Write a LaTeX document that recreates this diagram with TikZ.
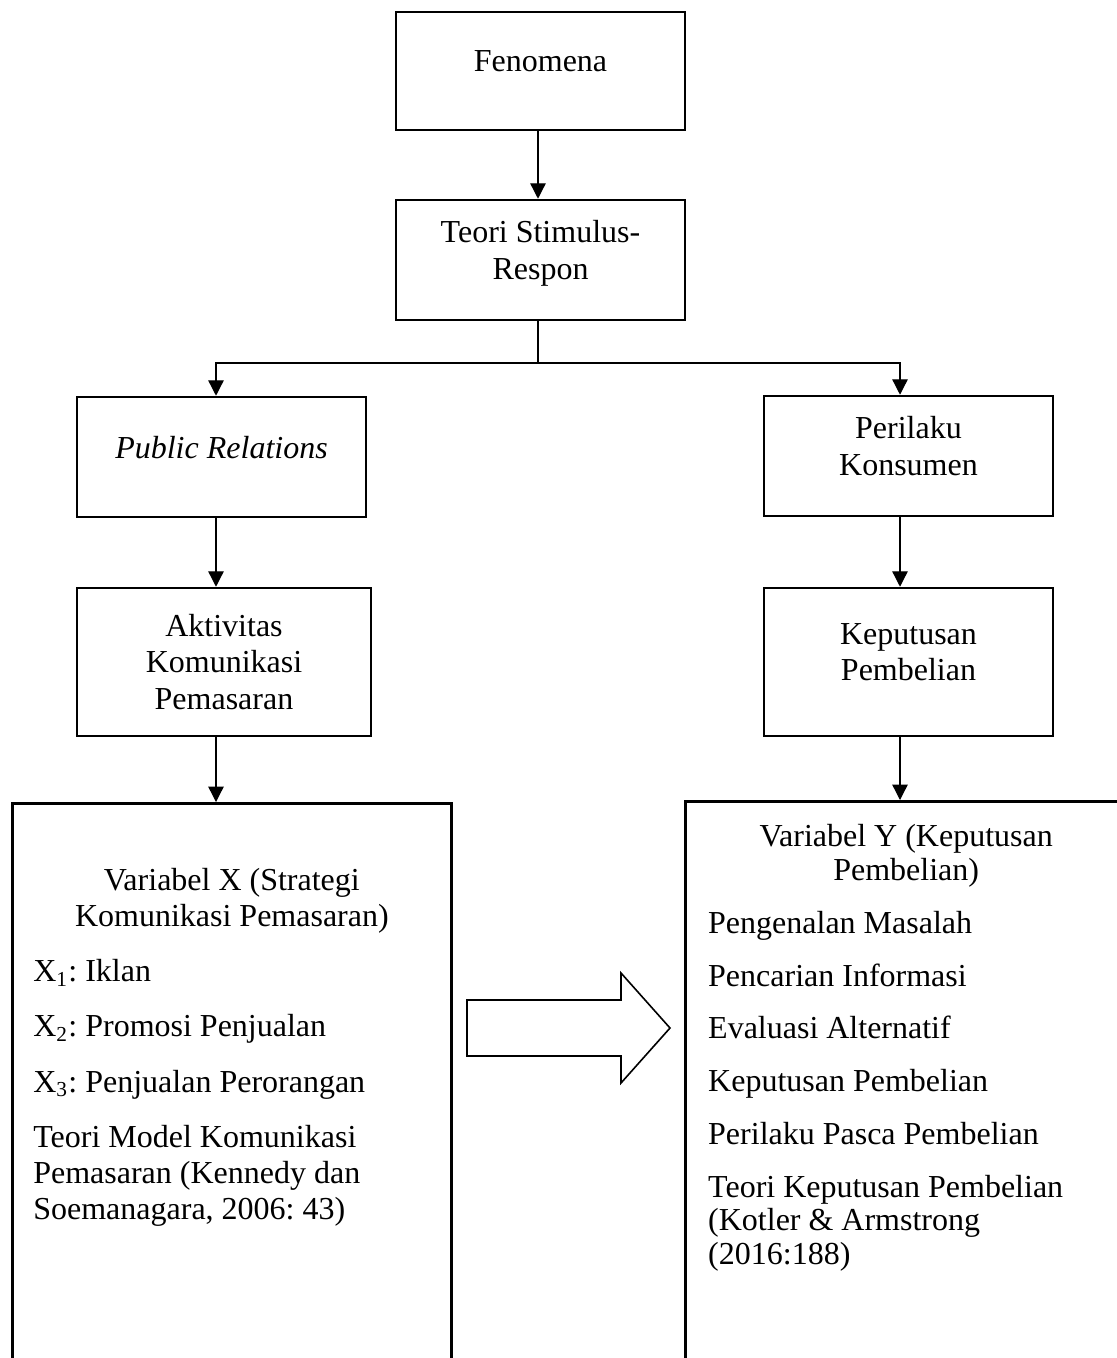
\documentclass[tikz,border=0pt]{standalone}
\usepackage{fontspec}
\setmainfont{Liberation Serif}
\usetikzlibrary{arrows.meta}
\newcommand{\lowgap}{\rule[-7.5pt]{0pt}{7.5pt}}
\frenchspacing

\begin{document}
\begin{tikzpicture}[x=0.375pt, y=-0.375pt, font=\fontsize{12pt}{13.6pt}\selectfont]
        \tikzstyle{box}=[draw, line width=0.95pt, align=center, inner sep=2pt, minimum width=108.4pt, minimum height=45pt]
        \tikzstyle{bigbox}=[draw, line width=0.95pt, inner xsep=7.9pt, inner ysep=0pt, anchor=north west]
        \tikzstyle{arr}=[line width=0.5pt, -{Triangle[length=5.8pt,width=5.8pt]}]
        \tikzstyle{link}=[line width=0.5pt]
        \useasboundingbox (0,0) rectangle (1117,1358);
        % top of the chart
        \node[box, minimum height=44.25pt] (fen) at (540.5,71) {Fenomena\lowgap};
        \node[box] (teo) at (540.5,260) {Teori Stimulus-\\Respon\lowgap};
        % two branches
        \node[box] (pr) at (221.5,457) {\textit{Public Relations}\lowgap};
        \node[box] (pk) at (908.5,456) {Perilaku\\Konsumen\lowgap};
        \node[box, minimum width=110.25pt, minimum height=55.5pt] (akt) at (224,662) {Aktivitas\\Komunikasi\\Pemasaran};
        \node[box, minimum height=55.5pt] (kp) at (908.5,662) {Keputusan\\Pembelian\lowgap};
        % variables
        \node[bigbox, minimum width=164.6pt] (varx) at (11,802) {\parbox[c][225pt][t]{148.9pt}{%
          \setlength{\parskip}{7.1pt}\setlength{\parindent}{0pt}\vspace*{17.2pt}
          {\centering Variabel X (Strategi\\Komunikasi Pemasaran)\par}
          X\textsubscript{1}: Iklan\par
          X\textsubscript{2}: Promosi Penjualan\par
          X\textsubscript{3}: Penjualan Perorangan\par
          Teori Model Komunikasi\\Pemasaran (Kennedy dan\\Soemanagara, 2006: 43)}};
        \node[bigbox, minimum width=165.7pt, inner xsep=8.6pt] (vary) at (684,800) {\parbox[c][225pt][t]{148.5pt}{%
          \fontsize{12pt}{12.6pt}\selectfont
          \setlength{\parskip}{7.2pt}\setlength{\parindent}{0pt}\vspace*{1.6pt}
          {\centering Variabel Y (Keputusan\\Pembelian)\par}
          Pengenalan Masalah\par
          Pencarian Informasi\par
          Evaluasi Alternatif\par
          Keputusan Pembelian\par
          Perilaku Pasca Pembelian\par
          Teori Keputusan Pembelian\\(Kotler \& Armstrong\\(2016:188)}};
        % connectors
        \coordinate (colL) at (216,0);
        \coordinate (colR) at (900,0);
        \coordinate (split) at (538,363);
        \draw[arr] (fen.south -| split) -- (teo.north -| split);
        \draw[link] (teo.south -| split) -- (split);
        \draw[arr] (split) -| (colL |- pr.north);
        \draw[arr] (split) -| (colR |- pk.north);
        \draw[arr] (pr.south -| colL) -- (akt.north -| colL);
        \draw[arr] (akt.south -| colL) -- (varx.north -| colL);
        \draw[arr] (pk.south -| colR) -- (kp.north -| colR);
        \draw[arr] (kp.south -| colR) -- (vary.north -| colR);
        % big arrow X to Y
        \draw[line width=0.6pt] (467,1000) -- (621,1000) -- (621,973) -- (670,1028) -- (621,1083) -- (621,1056) -- (467,1056) -- cycle;
\end{tikzpicture}
\end{document}
